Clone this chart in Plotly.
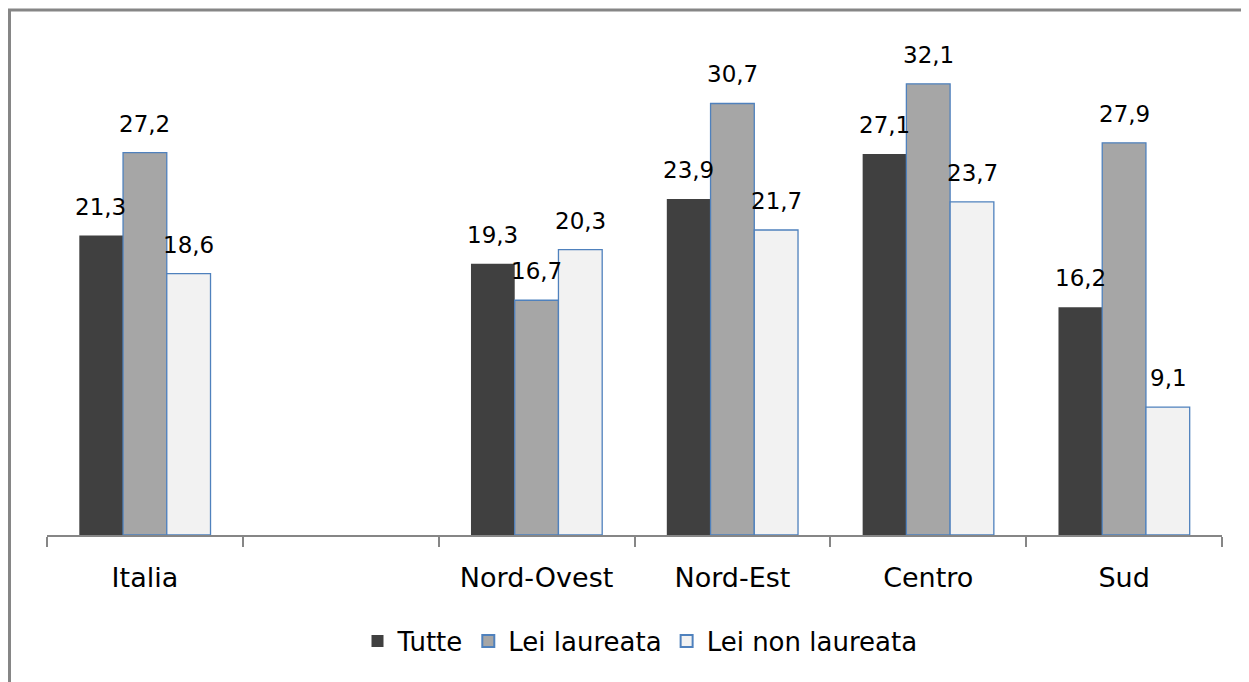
import plotly.graph_objects as go

categories = ["Italia", " ", "Nord-Ovest", "Nord-Est", "Centro", "Sud"]
tutte = [21.3, None, 19.3, 23.9, 27.1, 16.2]
lei_laureata = [27.2, None, 16.7, 30.7, 32.1, 27.9]
lei_non_laureata = [18.6, None, 20.3, 21.7, 23.7, 9.1]
series_names = ["Tutte", "Lei laureata", "Lei non laureata"]

W, H = 1249, 682
OFF = 8  # page body margin
L, R, T, B = 47 - OFF, 1249 - (1222 - OFF), 29 - OFF, 682 - (535 - OFF)
FONT = "DejaVu Sans"

fig = go.Figure()
styles = [
    dict(color="#404040", line=dict(width=0)),
    dict(color="#A6A6A6", line=dict(color="#4F81BD", width=1.3)),
    dict(color="#F2F2F2", line=dict(color="#4F81BD", width=1.3)),
]
all_vals = [tutte, lei_laureata, lei_non_laureata]
for name, vals, st in zip(series_names, all_vals, styles):
    fig.add_trace(go.Bar(x=categories, y=vals, name=name, marker=st))

# data labels
offsets = [-44, 0, 44]
for vals, off in zip(all_vals, offsets):
    for c, v in zip(categories, vals):
        if v is None:
            continue
        fig.add_annotation(
            x=c, y=v, xref="x", yref="y",
            text=f"{v:.1f}".replace(".", ","),
            showarrow=False, xshift=off, yshift=29,
            font=dict(family=FONT, size=23, color="#000000"),
        )

pw = W - L - R
ph = H - T - B
def px2x(px):
    return (px - OFF - L) / pw
def py2y(py):
    return (H - B - (py - OFF)) / ph

# outer frame (partially cropped in reference)
fig.add_shape(type="rect", xref="paper", yref="paper",
              x0=px2x(9.5), x1=px2x(1290), y0=py2y(720), y1=py2y(10),
              line=dict(color="#868686", width=3), fillcolor="rgba(0,0,0,0)", layer="below")

fig.update_layout(
    width=W, height=H,
    margin=dict(l=L, r=R, t=T, b=B),
    paper_bgcolor="white", plot_bgcolor="white",
    barmode="group", bargap=0.33, bargroupgap=0,
    showlegend=True,
    legend=dict(orientation="h", x=px2x(640), xanchor="center", y=py2y(641), yanchor="middle",
                font=dict(family=FONT, size=26, color="#000000"),
                itemsizing="constant", traceorder="normal", itemwidth=30),
    xaxis=dict(
        showline=True, linecolor="#868686", linewidth=1.5,
        ticks="outside", tickson="boundaries", ticklen=10, tickcolor="#868686", tickwidth=1.5,
        tickfont=dict(family=FONT, size=27, color="#000000"),
        ticklabelstandoff=18,
        showgrid=False, zeroline=False, fixedrange=True,
    ),
    yaxis=dict(range=[0, 36], visible=False, showgrid=False, zeroline=False),
)

fig.write_html("out.html")
